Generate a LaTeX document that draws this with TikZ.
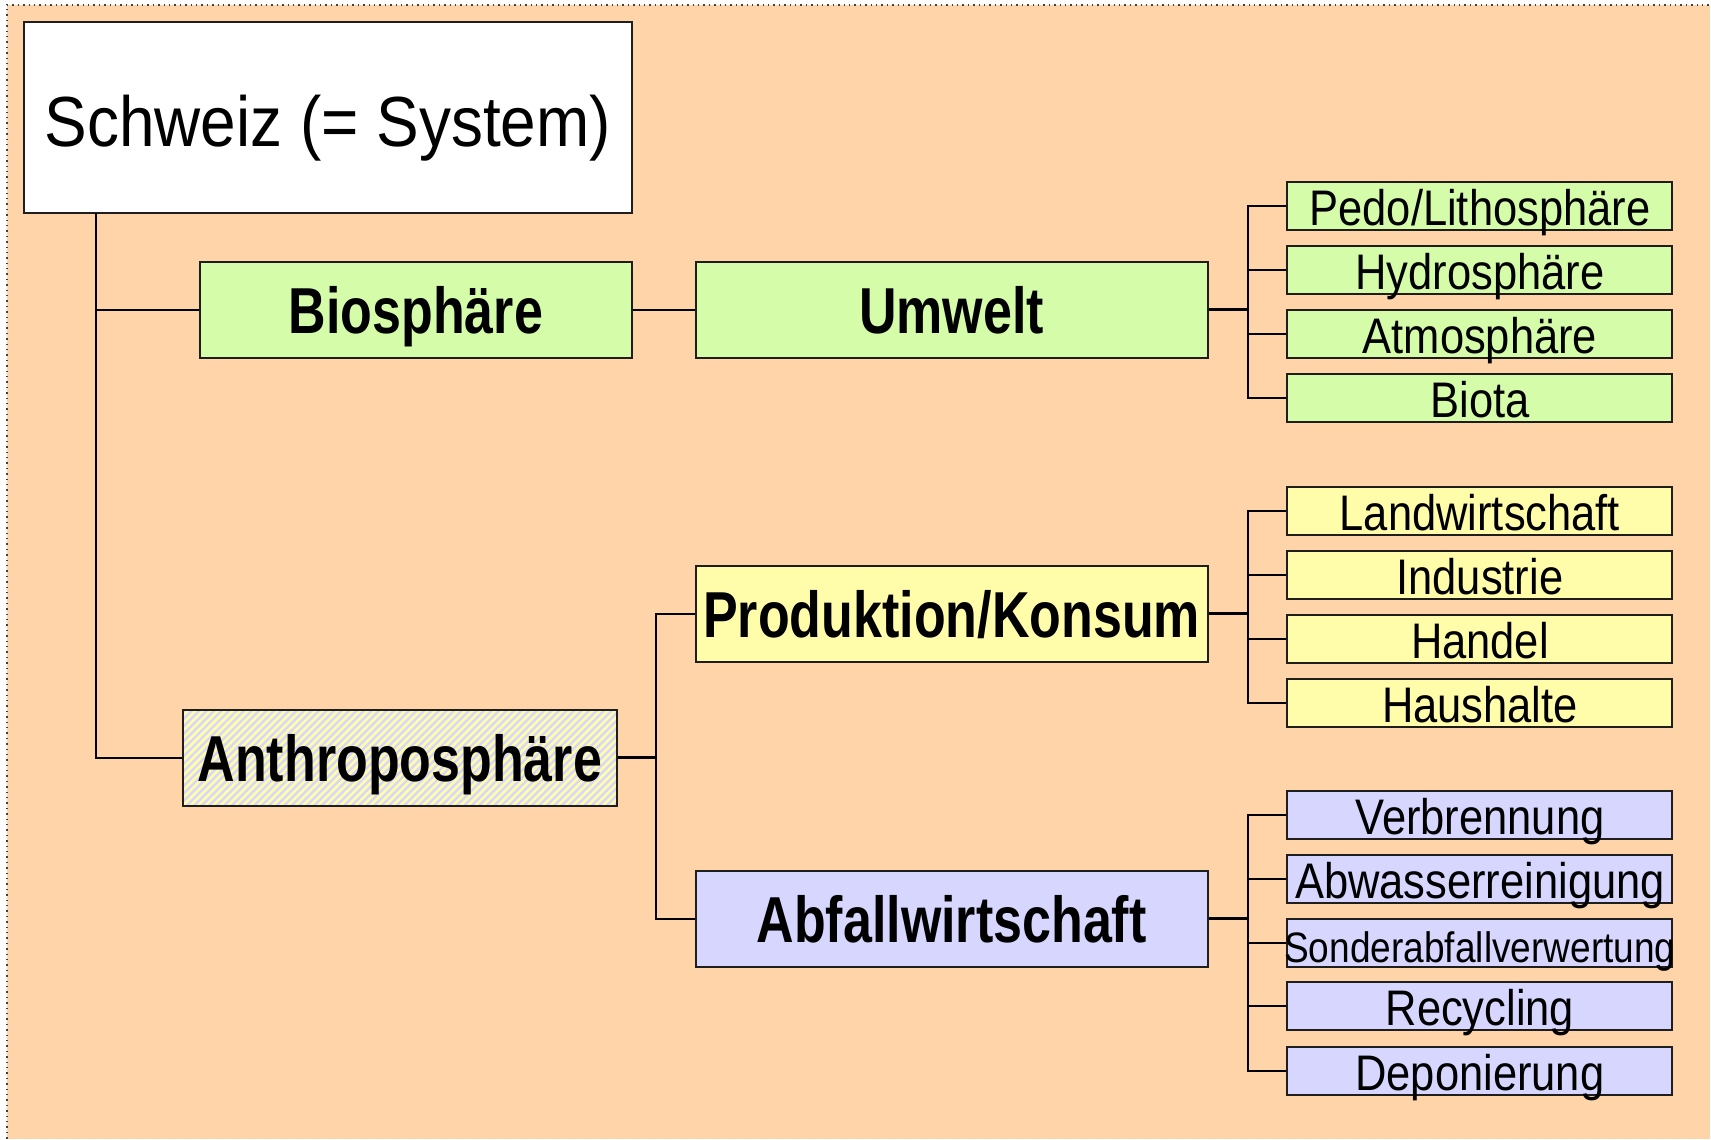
\documentclass[tikz,border=0pt]{standalone}
\usepackage{fontspec}
\setmainfont{Liberation Sans}
% narrow sans faces for the three text levels
\newfontfamily\ftop[FakeStretch=0.9]{Liberation Sans}
\newfontfamily\fmid[FakeStretch=0.8]{Liberation Sans}
\newfontfamily\fleaf[FakeStretch=0.87]{Liberation Sans}

\definecolor{peach}{RGB}{255,212,168}
\definecolor{bioGreen}{RGB}{213,252,168}
\definecolor{prodYellow}{RGB}{255,252,170}
\definecolor{wasteBlue}{RGB}{214,214,255}
\definecolor{edge}{RGB}{30,30,30}

\tikzset{
  x=0.5pt, y=-0.5pt,
  box/.style={draw=edge, line width=1pt, rectangle, inner sep=0pt, text depth=0pt},
  topbox/.style={box, fill=white, minimum width=304pt, minimum height=95.5pt,
    text height=29.5pt, font=\ftop\fontsize{35.5pt}{40pt}\selectfont},
  midbox/.style={box, minimum width=#1, minimum height=48pt,
    text height=23.5pt, font=\fmid\bfseries\fontsize{32.5pt}{36pt}\selectfont},
  leafbox/.style={box, minimum width=192.5pt, minimum height=24pt,
    text height=20pt, font=\fleaf\fontsize{25pt}{28pt}\selectfont},
  green/.style={fill=bioGreen},
  yellowbox/.style={fill=prodYellow},
  bluebox/.style={fill=wasteBlue},
  link/.style={draw=black, line width=1pt},
  stub/.style={draw=black, line width=1.4pt},
}
\newcommand{\ctext}[1]{\makebox[0pt]{#1}}

\begin{document}
\begin{tikzpicture}
% page and frame
\fill[white] (0,0) rectangle (1711,1139);
\fill[peach] (7,5) rectangle (1711,1139);
\draw[black!75, dotted, line width=0.7pt] (7,1139) -- (7,5) -- (1711,5);
\useasboundingbox (0,0) rectangle (1711,1139);

% system box
\node[topbox] (schweiz) at (328,117.5) {\ctext{Schweiz (= System)}};

% second level
\node[midbox=216pt, green] (bio) at (416,310) {\ctext{Biosphäre}};
\node[midbox=217pt, fill=wasteBlue,
  path picture={
    \foreach \k in {-14,...,59}
      \draw[prodYellow, line width=1.33pt]
        ([xshift=\k*3.75pt]path picture bounding box.south west) -- ++(60pt,60pt);
  }] (anthro) at (400,758) {\ctext{Anthroposphäre}};

% third level
\node[midbox=256pt, green] (umwelt) at (952,310) {\ctext{Umwelt}};
\node[midbox=256pt, yellowbox] (prod) at (952,614) {\ctext{Produktion/Konsum}};
\node[midbox=256pt, bluebox] (abfall) at (952,919) {\ctext{Abfallwirtschaft}};

% leaves: environment
\node[leafbox, green] (pedo) at (1480.5,206) {\ctext{Pedo/Lithosphäre}};
\node[leafbox, green] (hydro) at (1480.5,270) {\ctext{Hydrosphäre}};
\node[leafbox, green] (atmo) at (1480.5,334) {\ctext{Atmosphäre}};
\node[leafbox, green] (biota) at (1480.5,398) {\ctext{Biota}};

% leaves: production/consumption
\node[leafbox, yellowbox] (land) at (1480.5,511) {\ctext{Landwirtschaft}};
\node[leafbox, yellowbox] (ind) at (1480.5,575) {\ctext{Industrie}};
\node[leafbox, yellowbox] (handel) at (1480.5,639) {\ctext{Handel}};
\node[leafbox, yellowbox] (haus) at (1480.5,703) {\ctext{Haushalte}};

% leaves: waste management
\node[leafbox, bluebox] (verb) at (1480.5,815) {\ctext{Verbrennung}};
\node[leafbox, bluebox] (abw) at (1480.5,879) {\ctext{Abwasserreinigung}};
\node[leafbox, bluebox, font=\fleaf\fontsize{21.3pt}{24pt}\selectfont] (sonder) at (1480.5,943) {\ctext{Sonderabfallverwertung}};
\node[leafbox, bluebox] (recy) at (1480.5,1006) {\ctext{Recycling}};
\node[leafbox, bluebox] (depo) at (1480.5,1071) {\ctext{Deponierung}};

% trunk from the system box
\coordinate (sroot) at (96,213);
\draw[link] (sroot) |- (bio.west);
\draw[link] (sroot) |- (anthro.west);
\draw[link] (bio.east) -- (umwelt.west);

% trunk of the anthroposphere
\coordinate (amid) at (656,758);
\draw[stub] (anthro.east) -- (amid);
\draw[link] (amid) |- (prod.west);
\draw[link] (amid) |- (abfall.west);

% fan-outs to the leaves
\coordinate (ufork) at (1248,310);
\coordinate (pfork) at (1248,614);
\coordinate (afork) at (1248,919);
\draw[stub] (umwelt.east) -- (ufork);
\draw[stub] (prod.east) -- (pfork);
\draw[stub] (abfall.east) -- (afork);
\foreach \leaf in {pedo,hydro,atmo,biota}
  \draw[link] (ufork) |- (\leaf.west);
\foreach \leaf in {land,ind,handel,haus}
  \draw[link] (pfork) |- (\leaf.west);
\foreach \leaf in {verb,abw,sonder,recy,depo}
  \draw[link] (afork) |- (\leaf.west);
\end{tikzpicture}
\end{document}
